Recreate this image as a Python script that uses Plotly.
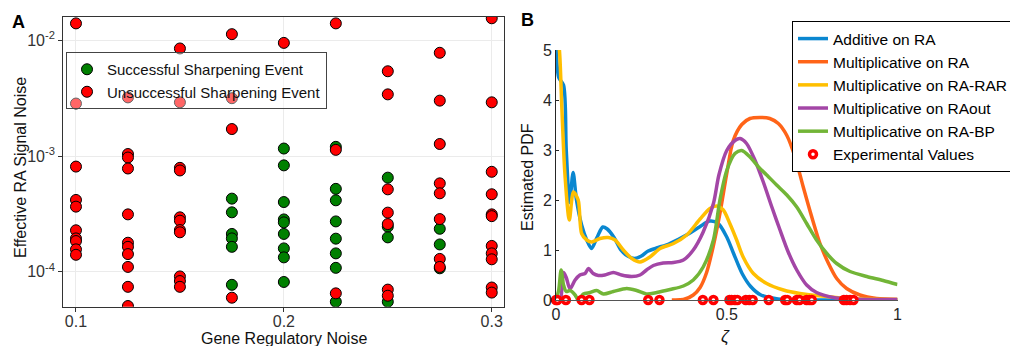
import plotly.graph_objects as go

W, H = 1010, 346
FONT = "Liberation Sans, Arial, sans-serif"

# ---------------- Panel A data ----------------
succ_x = ([0.175] * 6 + [0.2] * 9 + [0.225] * 8 + [0.25] * 4 + [0.275] * 3)
succ_y = [4.28e-4, 3.26e-4, 2.12e-4, 1.94e-4, 1.64e-4, 7.7e-5,
          1.16e-3, 8.3e-4, 4.0e-4, 2.83e-4, 2.67e-4, 2.12e-4, 1.59e-4, 1.33e-4, 8.15e-5,
          1.20e-3, 5.2e-4, 4.14e-4, 2.72e-4, 1.93e-4, 1.44e-4, 1.08e-4, 5.5e-5,
          6.5e-4, 2.45e-4, 1.98e-4, 5.5e-5,
          2.35e-4, 1.72e-4, 1.07e-4]

unsucc_x = ([0.1] * 10 + [0.125] * 11 + [0.15] * 11 + [0.175] * 4 + [0.2] * 1 +
            [0.225] * 3 + [0.25] * 7 + [0.275] * 8 + [0.3] * 11)
unsucc_y = [1.40e-2, 2.84e-3, 8.1e-4, 4.17e-4, 3.65e-4, 2.28e-4, 1.94e-4, 1.84e-4, 1.56e-4, 1.40e-4,
            3.21e-3, 1.04e-3, 9.7e-4, 7.8e-4, 3.13e-4, 1.78e-4, 1.64e-4, 1.42e-4, 1.10e-4, 7.4e-5, 5.05e-5,
            8.5e-3, 2.91e-3, 7.9e-4, 7.5e-4, 2.95e-4, 2.76e-4, 2.29e-4, 2.19e-4, 9.1e-5, 8.3e-5, 7.4e-5,
            1.13e-2, 3.16e-3, 1.71e-3, 5.96e-5,
            9.5e-3,
            1.40e-2, 1.13e-3, 6.5e-5,
            5.4e-3, 3.41e-3, 5.15e-4, 3.24e-4, 2.58e-4, 7.0e-5, 6.2e-5,
            7.8e-3, 3.01e-3, 1.27e-3, 5.8e-4, 4.76e-4, 2.85e-4, 1.29e-4, 1.10e-4,
            1.55e-2, 2.91e-3, 7.3e-4, 4.67e-4, 3.13e-4, 3.02e-4, 1.67e-4, 1.44e-4, 1.28e-4, 7.3e-5, 6.6e-5]

a_xticks = [0.1, 0.2, 0.3]
a_xticktext = ["0.1", "0.2", "0.3"]
a_yticks = [1e-4, 1e-3, 1e-2]
a_yticktext = ["10<sup>-4</sup>", "10<sup>-3</sup>", "10<sup>-2</sup>"]

# ---------------- Panel B data ----------------
add_ra_z = [0, 0.008, 0.022, 0.03, 0.04, 0.05, 0.06, 0.075, 0.09, 0.104, 0.12, 0.137, 0.15, 0.17,
            0.19, 0.21, 0.23, 0.25, 0.27, 0.3, 0.33, 0.36, 0.39, 0.42, 0.45, 0.475, 0.5, 0.52,
            0.545, 0.57, 0.6, 0.65, 0.7, 0.8, 1.0]
add_ra_pdf = [5.3, 4.45, 4.3, 3.0, 1.95, 2.55, 2.0, 1.5, 1.2, 1.03, 1.25, 1.46, 1.42, 1.25,
              1.0, 0.88, 0.83, 0.88, 0.98, 1.05, 1.12, 1.22, 1.33, 1.46, 1.58, 1.53, 1.26, 0.93,
              0.53, 0.27, 0.10, 0.02, 0.005, 0.0, 0.0]

mult_ra_z = [0.339, 0.373, 0.402, 0.422, 0.441, 0.46, 0.48, 0.5, 0.519, 0.544, 0.568, 0.597,
             0.626, 0.651, 0.676, 0.7, 0.724, 0.749, 0.773, 0.798, 0.822, 0.851, 0.89, 0.939, 1.0]
mult_ra_pdf = [0.0, 0.01, 0.1, 0.25, 0.55, 1.06, 1.73, 2.53, 3.19, 3.51, 3.63, 3.65,
               3.63, 3.53, 3.29, 2.86, 2.26, 1.66, 1.13, 0.73, 0.43, 0.23, 0.10, 0.03, 0.01]

mult_rarar_z = [0, 0.01, 0.017, 0.026, 0.039, 0.051, 0.065, 0.075, 0.09, 0.104, 0.129, 0.153, 0.173,
                0.197, 0.222, 0.246, 0.275, 0.305, 0.344, 0.383, 0.422, 0.451, 0.47, 0.49, 0.509,
                0.529, 0.548, 0.578, 0.617, 0.666, 0.714, 0.793, 0.861, 1.0]
mult_rarar_pdf = [5.5, 5.0, 3.86, 2.53, 1.6, 2.16, 2.0, 1.33, 1.2, 1.16, 1.23, 1.25, 1.2,
                  1.0, 0.83, 0.76, 0.86, 1.03, 1.13, 1.30, 1.62, 1.83, 1.88, 1.80, 1.53,
                  1.20, 0.86, 0.53, 0.33, 0.20, 0.13, 0.07, 0.03, 0.01]

mult_raout_z = [0.0, 0.012, 0.022, 0.03, 0.041, 0.056, 0.07, 0.085, 0.095, 0.109, 0.124, 0.143, 0.168,
                0.192, 0.222, 0.246, 0.265, 0.285, 0.314, 0.344, 0.373, 0.402, 0.431, 0.461, 0.477,
                0.5, 0.524, 0.539, 0.558, 0.583, 0.607, 0.632, 0.656, 0.68, 0.705, 0.734, 0.763,
                0.812, 0.861, 1.0]
mult_raout_pdf = [0.0, 0.0, 0.55, 0.45, 0.22, 0.40, 0.5, 0.53, 0.63, 0.53, 0.49, 0.5, 0.55,
                  0.5, 0.47, 0.5, 0.6, 0.69, 0.74, 0.75, 0.80, 1.0, 1.36, 1.93, 2.5,
                  2.99, 3.19, 3.23, 3.13, 2.79, 2.36, 1.86, 1.40, 0.96, 0.60, 0.30, 0.15,
                  0.05, 0.02, 0.01]

mult_rabp_z = [0, 0.008, 0.015, 0.022, 0.03, 0.041, 0.056, 0.065, 0.08, 0.1, 0.119, 0.139, 0.168,
               0.207, 0.236, 0.265, 0.295, 0.334, 0.373, 0.402, 0.431, 0.461, 0.48, 0.5, 0.524,
               0.544, 0.568, 0.593, 0.617, 0.646, 0.676, 0.705, 0.734, 0.763, 0.793, 0.822, 0.861,
               0.91, 0.958, 1.0]
mult_rabp_pdf = [0.0, 0.2, 0.6, 0.3, 0.17, 0.19, 0.1, 0.0, 0.12, 0.15, 0.19, 0.12, 0.17,
                 0.23, 0.19, 0.12, 0.15, 0.21, 0.28, 0.40, 0.66, 1.2, 2.0, 2.59, 2.93,
                 2.99, 2.86, 2.66, 2.50, 2.30, 2.10, 1.86, 1.53, 1.20, 0.93, 0.73, 0.57,
                 0.47, 0.39, 0.31]

exp_z = [0.0, 0.004, 0.029, 0.075, 0.098, 0.27, 0.303, 0.43, 0.461, 0.508, 0.514, 0.524, 0.531,
         0.556, 0.566, 0.576, 0.623, 0.671, 0.677, 0.705, 0.713, 0.734, 0.742, 0.749, 0.843,
         0.851, 0.861, 0.871]
exp_pdf = [0.0] * len(exp_z)

b_xticks = [0, 0.5, 1]
b_xticktext = ["0", "0.5", "1"]
b_yticks = [0, 1, 2, 3, 4, 5]

curve_names = ["Additive on RA", "Multiplicative on RA", "Multiplicative on RA-RAR",
               "Multiplicative on RAout", "Multiplicative on RA-BP"]
curve_colors = ["#0a87d0", "#ff6418", "#ffbf00", "#a346a6", "#72b537"]

# ---------------- Figure ----------------
fig = go.Figure()

fig.add_trace(go.Scatter(
    x=succ_x, y=succ_y, mode="markers", name="Successful Sharpening Event",
    marker=dict(color="#008000", size=11, line=dict(color="black", width=1)),
    xaxis="x", yaxis="y", legend="legend"))
fig.add_trace(go.Scatter(
    x=unsucc_x, y=unsucc_y, mode="markers", name="Unsuccessful Sharpening Event",
    marker=dict(color="#ff0000", size=11, line=dict(color="black", width=1)),
    xaxis="x", yaxis="y", legend="legend"))

curves = [(add_ra_z, add_ra_pdf), (mult_ra_z, mult_ra_pdf), (mult_rarar_z, mult_rarar_pdf),
          (mult_raout_z, mult_raout_pdf), (mult_rabp_z, mult_rabp_pdf)]
for (zz, pp), nm, col in zip(curves, curve_names, curve_colors):
    fig.add_trace(go.Scatter(
        x=zz, y=pp, mode="lines", name=nm,
        line=dict(color=col, width=3.5, shape="spline", smoothing=0.8),
        xaxis="x2", yaxis="y2", legend="legend2"))

fig.add_trace(go.Scatter(
    x=exp_z, y=exp_pdf, mode="markers", name="Experimental Values",
    marker=dict(symbol="circle", size=7, color="white", line=dict(color="#ff0000", width=3.5)),
    cliponaxis=False, xaxis="x2", yaxis="y2", legend="legend2"))

ax_font = dict(family=FONT, size=16, color="#333333")

fig.update_layout(
    width=W, height=H,
    margin=dict(l=0, r=0, t=0, b=0, pad=0, autoexpand=False),
    paper_bgcolor="white", plot_bgcolor="white",
    font=dict(family=FONT, size=16, color="#222222"),
    xaxis=dict(domain=[63.3 / W, 504 / W], range=[0.0939, 0.3059], anchor="y",
               tickvals=a_xticks, ticktext=a_xticktext, tickfont=ax_font, automargin=False,
               ticklabelstandoff=-4,
               showgrid=True, gridcolor="#ebebeb", gridwidth=1, zeroline=False,
               showline=True, mirror=True, linecolor="#333333", linewidth=1.3,
               ticks="outside", ticklen=4, tickcolor="#333333"),
    yaxis=dict(domain=[1 - 306.7 / H, 1 - 17 / H], type="log", range=[-4.3025, -1.7986],
               anchor="x", tickvals=a_yticks, ticktext=a_yticktext, tickfont=ax_font, automargin=False,
               showgrid=True, gridcolor="#ebebeb", gridwidth=1, zeroline=False,
               showline=True, mirror=True, linecolor="#333333", linewidth=1.3,
               ticks="outside", ticklen=4, tickcolor="#333333"),
    xaxis2=dict(domain=[556 / W, 897.5 / W], range=[0, 1], anchor="y2", automargin=False,
                tickvals=b_xticks, ticktext=b_xticktext, tickfont=dict(family=FONT, size=16, color="#262626"),
                showgrid=False, zeroline=False, showline=True, linecolor="#555555", linewidth=1,
                ticks="inside", ticklen=3, tickcolor="#555555"),
    yaxis2=dict(domain=[1 - 300 / H, 1 - 50 / H], range=[0, 5], anchor="x2", automargin=False,
                tickvals=b_yticks, tickfont=dict(family=FONT, size=16, color="#262626"),
                showgrid=False, zeroline=False, showline=True, linecolor="#262626", linewidth=1,
                ticks="inside", ticklen=3, tickcolor="#262626"),
    legend=dict(x=66 / W, y=1 - 52 / H, xanchor="left", yanchor="top",
                bordercolor="#444444", borderwidth=1, bgcolor="rgba(255,255,255,0.4)",
                font=dict(family=FONT, size=15, color="#111111"),
                tracegroupgap=0),
    legend2=dict(x=792 / W, y=1 - 21 / H, xanchor="left", yanchor="top",
                 bordercolor="#000000", borderwidth=1, bgcolor="white",
                 font=dict(family=FONT, size=15.5, color="#000000"),
                 tracegroupgap=0),
    showlegend=True,
)

annos = [
    dict(text="<b>A</b>", x=18 / W, y=1 - 22 / H, font=dict(size=18, color="black")),
    dict(text="<b>B</b>", x=527 / W, y=1 - 20 / H, font=dict(size=18, color="black")),
    dict(text="Effective RA Signal Noise", x=20 / W, y=1 - 168 / H, textangle=-90,
         font=dict(size=16, color="#111111")),
    dict(text="Gene Regulatory Noise", x=284 / W, y=1 - 338 / H, font=dict(size=16, color="#111111")),
    dict(text="Estimated PDF", x=527 / W, y=1 - 177 / H, textangle=-90,
         font=dict(size=16, color="#111111")),
    dict(text="<i>ζ</i>", x=725 / W, y=1 - 336 / H, font=dict(size=17, color="#111111")),
]
for a in annos:
    fig.add_annotation(xref="paper", yref="paper", showarrow=False,
                       xanchor="center", yanchor="middle", **a)

fig.write_html("out.html")
